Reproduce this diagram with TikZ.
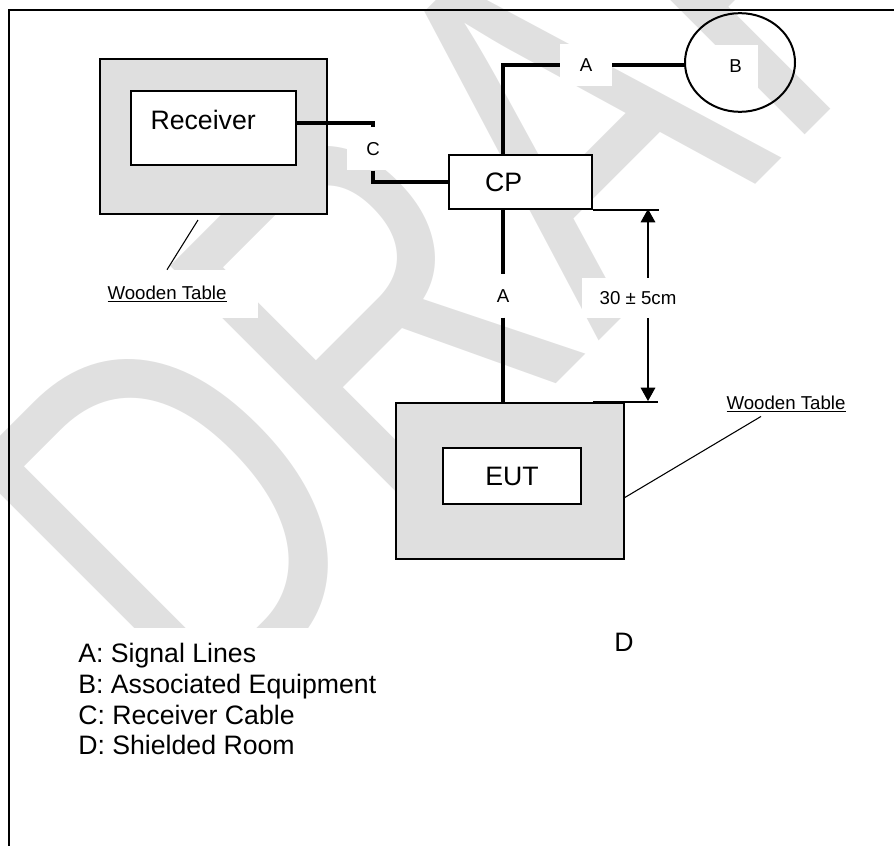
\documentclass[tikz,border=0pt]{standalone}
\usepackage{fontspec}
\setmainfont{Liberation Sans}
\usetikzlibrary{shapes.geometric, arrows.meta, positioning, calc}
\newcommand{\bigtxt}{\fontsize{20}{23}\selectfont}
\newcommand{\smalltxt}{\fontsize{14}{16}\selectfont}

\begin{document}
\begin{tikzpicture}[
      x=0.75pt, y=-0.75pt,
      wmark/.style={anchor=base west, rotate=45, inner sep=0pt, text=gray!24,
                    font=\fontsize{388}{388}\selectfont},
      tablebox/.style={draw, line width=1.8pt, fill=gray!25, inner sep=0pt},
      unit/.style={draw, line width=1.5pt, fill=white, inner sep=0pt, font=\bigtxt},
      tag/.style={fill=white, inner sep=0pt, font=\smalltxt,
                  minimum width=39pt, minimum height=32pt},
      note/.style={fill=white, inner sep=0pt, font=\smalltxt},
      cable/.style={line width=3pt},
      thin/.style={line width=0.8pt},
      dimarr/.style={thin, -{Triangle[length=10pt, width=11pt]}}
    ]
      \useasboundingbox (0,0) rectangle (894,846);
      % watermark
      \node[wmark] (draft) at (200,740) {\scalebox{0.754}[1]{DRAFT}};

      % tables and equipment
      \node[tablebox, minimum width=170pt, minimum height=116pt] (rtab) at (213.5,136.5) {};
      \node[unit, text width=94pt, inner xsep=15pt, align=left,
            text height=28.5pt, text depth=27pt] (rbox) at (213.25,128) {Receiver};
      \node[unit, minimum height=40.5pt, text width=53pt, inner xsep=27pt,
            align=left] (cp) at (520.5,182) {CP};
      \node[tablebox, minimum width=171pt, minimum height=117pt] (etab) at (510,481) {};
      \node[unit, minimum width=104pt, minimum height=42pt] (eut) at (512,476) {EUT};
      \node[draw, ellipse, line width=1.5pt, inner sep=0pt,
            minimum width=82.5pt, minimum height=74pt] (assoc) at (740,62.5) {};

      % labels
      \node[tag] (tagA1) at (586,65) {A};
      \node[tag, minimum width=34pt] (tagB) at (735.5,66.5) {B};
      \node[tag] (tagC) at (373,149) {C};
      \node[tag] (tagA2) at (503,296) {A};
      \node[tag, minimum width=84pt, minimum height=30pt] (dim) at (638,298) {30 ± 5cm};
      \node[note, minimum width=136pt, minimum height=36pt] (wtl) at (167,294) {\underline{Wooden Table}};
      \node[note] (wtr) at (786,404) {\underline{Wooden Table}};
      \node[font=\bigtxt] (room) at (624,642) {D};
      \node[note, font=\bigtxt, align=left, anchor=north west, inner sep=11.5pt]
            (legend) at (62.7,628) {A: Signal Lines\\B: Associated Equipment\\C: Receiver Cable\\D: Shielded Room};

      % cables
      \draw[cable] (tagA2 |- cp.north) |- (tagA1.west);
      \draw[cable] (tagA1.east) -- (tagA1.east -| assoc.west);
      \draw[cable] (cp.south -| tagA2) -- (tagA2.north);
      \draw[cable] (tagA2.south) -- (etab.north -| tagA2);
      \draw[cable] ($(rbox.east)+(0,-5)$) -| (tagC.north);
      \draw[cable] (tagC.south) |- (cp.west);

      % 30 cm spacing
      \coordinate (dimtop) at (648,209);
      \coordinate (dimbot) at (648,401);
      \draw[thin] (cp.south east) -- ($(cp.south east)+(66,0)$);
      \draw[thin] ($(cp.south east)+(0,192)$) -- ($(cp.south east)+(65,192)$);
      \draw[dimarr] (dim.north -| dimtop) -- (dimtop);
      \draw[dimarr] (dim.south -| dimtop) -- (dimbot);

      % leaders to the tables
      \coordinate (rfoot) at (198,220);
      \coordinate (efoot) at (624,498);
      \draw[thin] (rfoot) -- (wtl.north);
      \draw[thin] ($(wtr.south)+(-25,4)$) -- (efoot);

      % shielded room
      \draw[line width=2pt] (9,850) -- (9,10) -- (900,10);
\end{tikzpicture}
\end{document}
